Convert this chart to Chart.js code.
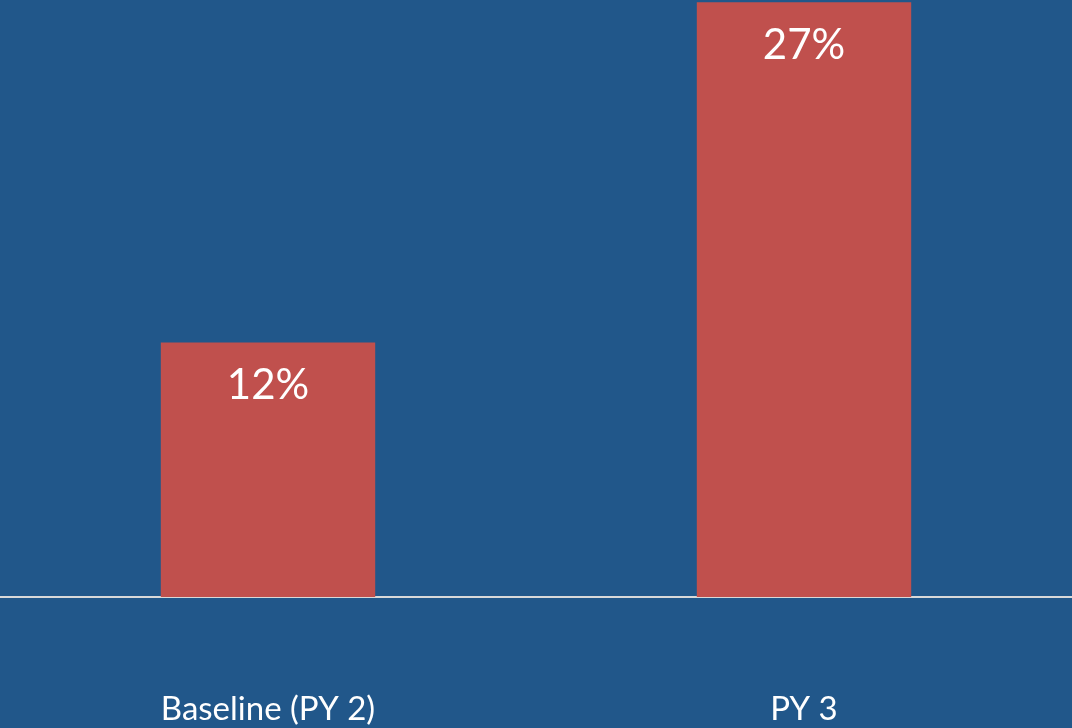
<!DOCTYPE html>
<html>
<head>
<meta charset="utf-8">
<script src="https://cdn.jsdelivr.net/npm/chart.js@4.4.0/dist/chart.umd.min.js"></script>
<style>
  html, body { margin: 0; padding: 0; background: #21578a; }
  #wrap { width: 1072px; height: 728px; }
</style>
</head>
<body>
<div id="wrap"><canvas id="myChart" width="1072" height="728"></canvas></div>
<script>
// data
const categories = ['Baseline (PY 2)', 'PY 3'];
const shares = [11.6, 27.1];
const valueLabels = ['12%', '27%'];

// white labels near the top of each bar
const barLabels = {
  id: 'barLabels',
  afterDatasetsDraw(chart) {
    const ctx = chart.ctx;
    const meta = chart.getDatasetMeta(0);
    ctx.save();
    ctx.fillStyle = '#ffffff';
    ctx.font = '42px Lato';
    ctx.textAlign = 'center';
    ctx.textBaseline = 'middle';
    meta.data.forEach((bar, i) => {
      ctx.fillText(valueLabels[i], bar.x, bar.y + 43);
    });
    ctx.restore();
  }
};

const myChartRef = document.getElementById('myChart').getContext('2d');
new Chart(myChartRef, {
  type: 'bar',
  data: {
    labels: categories,
    datasets: [{
      data: shares,
      backgroundColor: '#c0504d',
      barPercentage: 0.4,
      categoryPercentage: 1
    }]
  },
  options: {
    responsive: false,
    animation: false,
    layout: { padding: 0 },
    plugins: {
      legend: { display: false },
      tooltip: { enabled: false }
    },
    scales: {
      x: {
        grid: { display: false, drawTicks: false },
        border: { display: true, color: '#d9d9d9', width: 2 },
        ticks: {
          color: '#ffffff',
          padding: 93,
          maxRotation: 0,
          font: { family: 'Lato', size: 33 }
        },
        // chart.js reserves padding twice, keep the axis band at its real size
        afterFit(scale) { scale.height = 131; }
      },
      y: {
        display: false,
        min: 0,
        max: 27.2
      }
    }
  },
  plugins: [barLabels]
});
</script>
</body>
</html>
